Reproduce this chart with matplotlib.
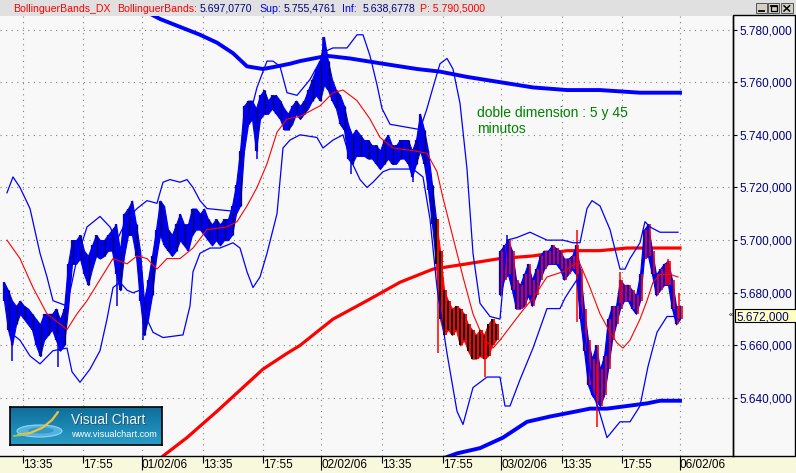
import numpy as np
import matplotlib
matplotlib.use('Agg')
import matplotlib.pyplot as plt
from matplotlib.patches import Rectangle, Ellipse
from matplotlib.colors import LinearSegmentedColormap

plt.rcParams['font.family'] = ['Liberation Sans', 'DejaVu Sans']

# ---------------- data ----------------
# 5-minute price bars (high / low), one every 4 bar units
price_high = [5.684, 5.681, 5.677, 5.675, 5.677, 5.675, 5.674, 5.672, 5.670, 5.668,
              5.672, 5.672, 5.672, 5.674, 5.670, 5.674, 5.691, 5.700, 5.700, 5.702,
              5.696, 5.694, 5.698, 5.702, 5.700, 5.700, 5.702, 5.704, 5.706, 5.696,
              5.710, 5.712, 5.715, 5.706, 5.696, 5.677, 5.685, 5.694, 5.704, 5.715,
              5.713, 5.704, 5.702, 5.706, 5.710, 5.706, 5.706, 5.712, 5.712, 5.710,
              5.712, 5.708, 5.706, 5.708, 5.706, 5.708, 5.708, 5.713, 5.721, 5.734,
              5.751, 5.753, 5.753, 5.750, 5.755, 5.757, 5.753, 5.755, 5.755, 5.753,
              5.750, 5.748, 5.751, 5.753, 5.751, 5.753, 5.757, 5.761, 5.765, 5.768,
              5.777, 5.768, 5.761, 5.757, 5.755, 5.751, 5.744, 5.740, 5.742, 5.740,
              5.738, 5.738, 5.736, 5.736, 5.734, 5.738, 5.740, 5.736, 5.736, 5.738,
              5.738, 5.738, 5.734, 5.738, 5.748, 5.742, 5.734, 5.721, 5.708, 5.696,
              5.681, 5.677, 5.674, 5.675, 5.674, 5.672, 5.668, 5.666, 5.664, 5.666,
              5.664, 5.668, 5.670, 5.668, 5.696, 5.698, 5.700, 5.696, 5.685, 5.683,
              5.687, 5.691, 5.685, 5.689, 5.694, 5.696, 5.696, 5.698, 5.697, 5.696,
              5.693, 5.693, 5.694, 5.698, 5.689, 5.674, 5.662, 5.655, 5.660, 5.651,
              5.656, 5.670, 5.675, 5.675, 5.685, 5.683, 5.683, 5.681, 5.679, 5.687,
              5.704, 5.706, 5.696, 5.687, 5.689, 5.691, 5.692, 5.685, 5.675, 5.675]
price_low = [5.677, 5.666, 5.660, 5.668, 5.672, 5.670, 5.668, 5.666, 5.660, 5.656,
             5.662, 5.664, 5.666, 5.662, 5.658, 5.660, 5.674, 5.691, 5.691, 5.693,
             5.687, 5.683, 5.689, 5.694, 5.693, 5.694, 5.696, 5.696, 5.687, 5.681,
             5.694, 5.702, 5.702, 5.694, 5.677, 5.664, 5.670, 5.679, 5.693, 5.702,
             5.698, 5.696, 5.694, 5.696, 5.700, 5.698, 5.696, 5.702, 5.704, 5.704,
             5.702, 5.700, 5.698, 5.700, 5.698, 5.700, 5.700, 5.702, 5.710, 5.713,
             5.734, 5.744, 5.746, 5.734, 5.746, 5.748, 5.748, 5.750, 5.748, 5.746,
             5.742, 5.742, 5.744, 5.748, 5.746, 5.748, 5.750, 5.753, 5.755, 5.753,
             5.759, 5.757, 5.753, 5.750, 5.744, 5.742, 5.731, 5.729, 5.732, 5.732,
             5.732, 5.731, 5.731, 5.729, 5.727, 5.729, 5.731, 5.729, 5.729, 5.731,
             5.731, 5.729, 5.724, 5.729, 5.734, 5.729, 5.719, 5.706, 5.691, 5.670,
             5.664, 5.666, 5.664, 5.666, 5.660, 5.662, 5.658, 5.655, 5.655, 5.656,
             5.655, 5.656, 5.660, 5.662, 5.679, 5.685, 5.687, 5.681, 5.674, 5.674,
             5.675, 5.679, 5.675, 5.679, 5.685, 5.689, 5.691, 5.691, 5.691, 5.689,
             5.685, 5.687, 5.689, 5.687, 5.670, 5.658, 5.645, 5.641, 5.639, 5.637,
             5.641, 5.651, 5.662, 5.668, 5.674, 5.677, 5.677, 5.674, 5.672, 5.677,
             5.693, 5.694, 5.687, 5.679, 5.681, 5.683, 5.683, 5.674, 5.668, 5.670]
price_bar = np.arange(1, len(price_high) + 1) * 4

# isolated wicks
spike_bar = [438, 485, 577, 597, 620, 668, 679]
spike_high = [5.690, 5.662, 5.704, 5.653, 5.688, 5.693, 5.680]
spike_low = [5.657, 5.648, 5.669, 5.629, 5.676, 5.683, 5.670]
blue_spike_bar = [12, 58, 117, 143, 257, 323, 351, 413, 507]
blue_spike_high = [5.672, 5.664, 5.700, 5.676, 5.744, 5.777, 5.740, 5.733, 5.702]
blue_spike_low = [5.654, 5.652, 5.675, 5.662, 5.731, 5.762, 5.725, 5.722, 5.690]

# short Bollinger bands (5 min)
mid_bar = [7, 20, 33, 47, 57, 67, 77, 87, 100, 113, 127, 137, 147, 157, 167, 180, 193, 207,
           227, 237, 247, 257, 267, 277, 287, 300, 320, 333, 343, 357, 370, 380, 393, 413,
           427, 437, 443, 453, 463, 473, 483, 493, 500, 510, 520, 533, 547, 563, 575, 580,
           590, 600, 610, 617, 623, 630, 640, 647, 653, 660, 670, 678]
mid_val = [5.700, 5.693, 5.682, 5.672, 5.669, 5.666, 5.672, 5.677, 5.685, 5.693,
           5.691, 5.694, 5.693, 5.689, 5.693, 5.693, 5.697, 5.704, 5.705, 5.707,
           5.713, 5.720, 5.729, 5.741, 5.746, 5.747, 5.751, 5.756, 5.757, 5.753,
           5.746, 5.739, 5.735, 5.734, 5.733, 5.726, 5.716, 5.701, 5.686, 5.672,
           5.663, 5.659, 5.662, 5.667, 5.672, 5.678, 5.686, 5.688, 5.691, 5.691,
           5.682, 5.672, 5.665, 5.661, 5.659, 5.662, 5.670, 5.677, 5.684, 5.687,
           5.687, 5.686]
up_bar = [7, 13, 20, 30, 40, 47, 53, 67, 77, 87, 100, 110, 117, 127, 137, 147, 157, 163, 170,
          180, 187, 193, 200, 207, 233, 240, 247, 257, 267, 273, 280, 287, 297, 310, 320,
          327, 333, 347, 353, 357, 363, 370, 377, 382, 390, 420, 427, 433, 440, 447, 453,
          460, 467, 473, 480, 490, 500, 507, 517, 530, 547, 563, 573, 580, 587, 592, 600,
          610, 620, 625, 630, 640, 645, 650, 660, 670, 678]
up_val = [5.718, 5.724, 5.720, 5.712, 5.695, 5.686, 5.677, 5.675, 5.693, 5.705,
          5.709, 5.705, 5.700, 5.708, 5.712, 5.715, 5.714, 5.722, 5.723, 5.722,
          5.723, 5.720, 5.715, 5.712, 5.711, 5.722, 5.743, 5.758, 5.768, 5.768,
          5.766, 5.756, 5.755, 5.761, 5.768, 5.772, 5.773, 5.773, 5.776, 5.778,
          5.778, 5.770, 5.759, 5.750, 5.744, 5.742, 5.750, 5.758, 5.767, 5.769,
          5.765, 5.752, 5.727, 5.695, 5.676, 5.671, 5.670, 5.700, 5.701, 5.703,
          5.700, 5.700, 5.699, 5.699, 5.712, 5.715, 5.713, 5.704, 5.689, 5.689,
          5.693, 5.699, 5.707, 5.705, 5.703, 5.703, 5.703]
lo_bar = [10, 20, 30, 40, 53, 67, 72, 80, 90, 100, 107, 113, 120, 127, 133, 140, 147, 153,
          163, 183, 190, 193, 200, 210, 220, 233, 240, 247, 253, 260, 267, 277, 283, 290,
          300, 317, 323, 333, 343, 350, 360, 367, 373, 383, 390, 413, 423, 430, 437, 447,
          457, 463, 473, 487, 500, 505, 510, 520, 533, 547, 560, 565, 570, 577, 593, 600,
          607, 620, 630, 640, 648, 657, 667, 675, 678]
lo_val = [5.665, 5.662, 5.656, 5.653, 5.658, 5.659, 5.650, 5.646, 5.651, 5.658,
          5.670, 5.682, 5.684, 5.681, 5.680, 5.681, 5.670, 5.665, 5.663, 5.664,
          5.675, 5.688, 5.695, 5.697, 5.697, 5.699, 5.697, 5.688, 5.682, 5.686,
          5.695, 5.710, 5.735, 5.738, 5.740, 5.739, 5.735, 5.738, 5.740, 5.731,
          5.723, 5.720, 5.722, 5.726, 5.727, 5.727, 5.724, 5.708, 5.682, 5.657,
          5.635, 5.630, 5.644, 5.648, 5.648, 5.637, 5.637, 5.647, 5.659, 5.674,
          5.674, 5.678, 5.681, 5.685, 5.642, 5.634, 5.625, 5.631, 5.631, 5.637,
          5.652, 5.665, 5.671, 5.671, 5.670]

# long Bollinger bands (45 min)
lmid_bar = [150, 163, 187, 217, 240, 263, 287, 300, 333, 367, 400, 433, 467, 500, 533, 567,
            600, 627, 653, 680]
lmid_val = [5.613, 5.618, 5.625, 5.635, 5.643, 5.651, 5.657, 5.660, 5.670, 5.677,
            5.684, 5.689, 5.691, 5.693, 5.694, 5.696, 5.696, 5.697, 5.697, 5.697]
lup_bar = [120, 140, 150, 160, 180, 200, 217, 233, 247, 263, 277, 290, 300, 327, 350, 383,
           417, 440, 467, 500, 533, 567, 600, 640, 680]
lup_val = [5.793, 5.788, 5.786, 5.784, 5.781, 5.778, 5.775, 5.771, 5.766, 5.765,
           5.766, 5.767, 5.768, 5.770, 5.769, 5.767, 5.765, 5.764, 5.762, 5.760,
           5.758, 5.757, 5.757, 5.756, 5.756]
llo_bar = [435, 457, 480, 503, 527, 550, 577, 590, 607, 627, 647, 660, 680]
llo_val = [5.616, 5.619, 5.621, 5.625, 5.631, 5.633, 5.635, 5.636, 5.636, 5.637,
           5.638, 5.639, 5.639]

last_price = 5.672
date_bar = [142, 321, 501, 680]
date_labels = ['01/02/06', '02/02/06', '03/02/06', '06/02/06']
time_bar = [23, 83, 203, 263, 382, 443, 562, 622]
time_labels = ['13:35', '17:55', '13:35', '17:55', '13:35', '17:55', '13:35', '17:55']
y_ticks = [5.64, 5.66, 5.68, 5.70, 5.72, 5.74, 5.76, 5.78]
y_labels = ['5.640,000', '5.660,000', '5.680,000', '5.700,000', '5.720,000',
            '5.740,000', '5.760,000', '5.780,000']

title_parts = [(13, 'BollinguerBands_DX', '#FF0000'),
               (117, 'BollinguerBands:', '#FF0000'),
               (200, '5.697,0770', '#000080'),
               (259, 'Sup:', '#0000FF'),
               (284, '5.755,4761', '#000080'),
               (342, 'Inf:', '#0000FF'),
               (363, '5.638,6778', '#000080'),
               (420, 'P: 5.790,5000', '#FF0000')]

# ---------------- figure ----------------
W, H = 796, 473
BG = '#F8F8F8'
fig = plt.figure(figsize=(W / 100, H / 100), dpi=100)
fig.patch.set_facecolor(BG)

bg = fig.add_axes([0, 0, 1, 1], zorder=-5)
bg.set_xlim(0, W); bg.set_ylim(H, 0); bg.axis('off')
bg.add_patch(Rectangle((0, 0), W, 16, fc='#E0E0E0', ec='none'))
bg.add_patch(Rectangle((0, 456), W, 17, fc='#F8F8DC', ec='none'))

PL, PR, PT, PB = 0, 733, 16, 456
ax = fig.add_axes([PL / W, 1 - PB / H, (PR - PL) / W, (PB - PT) / H])
ax.set_facecolor(BG)
ax.set_xlim(0, 733)
ax.set_ylim(5.61801, 5.78513)
for s in ['left', 'top']:
    ax.spines[s].set_visible(False)
for s in ['bottom', 'right']:
    ax.spines[s].set_color('black'); ax.spines[s].set_linewidth(1.0)

ax.set_xticks(date_bar)
ax.set_xticklabels(date_labels)
ax.set_xticks(time_bar, minor=True)
ax.set_xticklabels(time_labels, minor=True)
ax.tick_params(axis='x', which='major', length=10, width=0.8, direction='out',
               pad=-7.5, labelsize=8.5, colors='black')
ax.tick_params(axis='x', which='minor', length=5, width=0.8, direction='out',
               pad=-2.5, labelsize=8.5, colors='black')
for t in ax.get_xticklabels(which='both'):
    t.set_ha('left')

ax.yaxis.tick_right()
ax.set_yticks(y_ticks)
ax.set_yticklabels(y_labels)
ax.tick_params(axis='y', length=3, width=0.8, direction='out', pad=1.5,
               labelsize=8.5, labelcolor='#000080', color='black')

gkw = dict(color='#808080', linestyle=(0, (1, 4)), linewidth=0.8)
ax.grid(True, which='major', axis='y', **gkw)
ax.grid(True, which='both', axis='x', **gkw)
ax.set_axisbelow(True)

# long bands
ax.plot(lmid_bar, lmid_val, color='#FF0000', lw=2.3, zorder=2)
ax.plot(lup_bar, lup_val, color='#0000FF', lw=2.8, zorder=2)
ax.plot(llo_bar, llo_val, color='#0000FF', lw=2.8, zorder=2)

# price bars: jagged high-low band plus individual bars
hi = np.array(price_high); lo = np.array(price_low)
seg1 = price_bar <= 436
seg2 = (price_bar >= 436) & (price_bar < 500)
seg3 = price_bar >= 500
BLUE = '#0000E8'
for m, col in [(seg1, BLUE), (seg3, BLUE)]:
    ax.fill_between(price_bar[m], lo[m], hi[m], color=col, lw=0.8, zorder=3)
    ax.vlines(price_bar[m], lo[m], hi[m], colors=col, lw=1.6, zorder=3)
ax.vlines(price_bar[seg1][1::2] + 1, lo[seg1][1::2], hi[seg1][1::2],
          colors='#000060', lw=0.9, zorder=3.1)
ax.vlines(blue_spike_bar, blue_spike_low, blue_spike_high, colors=BLUE, lw=1.1, zorder=3.1)
# red / black section
ax.fill_between(price_bar[seg2], lo[seg2], hi[seg2], color='#FF0000', lw=0.8, zorder=3)
ax.vlines(price_bar[seg2], lo[seg2], hi[seg2], colors='#000000', lw=1.4, zorder=3.1)
ax.vlines(price_bar[seg2] + 2, lo[seg2], hi[seg2], colors='#FF0000', lw=1.4, zorder=3.2)
# red bars over the last session
ax.vlines(price_bar[seg3] + 2, lo[seg3], hi[seg3], colors='#FF0000', lw=1.2, zorder=3.2)
ax.vlines(spike_bar, spike_low, spike_high, colors='#FF0000', lw=1.1, zorder=3.3)

# short bands
ax.plot(up_bar, up_val, color='#0000FF', lw=0.9, zorder=4)
ax.plot(lo_bar, lo_val, color='#0000FF', lw=0.9, zorder=4)
ax.plot(mid_bar, mid_val, color='#FF0000', lw=0.8, zorder=4)

# ---------------- overlay (pixel coordinates) ----------------
ov = fig.add_axes([0, 0, 1, 1], zorder=10)
ov.set_xlim(0, W); ov.set_ylim(H, 0); ov.axis('off')
ov.patch.set_alpha(0)

for x, txt, col in title_parts:
    ov.text(x, 11.5, txt, color=col, fontsize=7.6, va='baseline', ha='left')

# window buttons
for bx, bw in [(756, 11), (768, 11), (780.5, 12)]:
    ov.add_patch(Rectangle((bx, 3.5), bw, 9.5, fc='#D4D0C8', ec='#404040', lw=0.6))
ov.plot([759, 764], [11, 11], color='black', lw=1.3)
ov.add_patch(Rectangle((771, 5.8), 5.5, 5.2, fc='none', ec='black', lw=0.9))
ov.plot([771, 776.5], [6.2, 6.2], color='black', lw=1.3)
ov.plot([784, 789.5], [5.8, 11], color='black', lw=1.1)
ov.plot([784, 789.5], [11, 5.8], color='black', lw=1.1)

# right panel frame
ov.add_patch(Rectangle((733, 15.5), 62.3, 440.5, fc='none', ec='black', lw=1.0))

# last price box
ov.add_patch(Rectangle((734.5, 308.5), 62, 13.5, fc='#FFFFC0', ec='black', lw=0.8))
ov.text(736.5, 320, '5.672,000', color='#000080', fontsize=8.5, va='baseline', ha='left')
ov.text(730.5, 315.5, '\u00ab', color='black', fontsize=5.5, va='center', ha='center')

# annotation
ov.text(477, 117, 'doble dimension : 5 y 45', color='#008000', fontsize=10, va='baseline')
ov.text(477, 132.5, 'minutos', color='#008000', fontsize=10, va='baseline')

# logo
la = fig.add_axes([10 / W, 1 - 445 / H, 152 / W, 38 / H], zorder=11)
cmap = LinearSegmentedColormap.from_list('lg', ['#0F6E9B', '#1B86B2', '#2A9CC4'])
grad = np.linspace(0, 1, 38)[:, None] * np.ones((1, 152))
la.imshow(grad, cmap=cmap, extent=(0, 152, 38, 0), aspect='auto', interpolation='bilinear')
la.set_xlim(0, 152); la.set_ylim(38, 0)
la.set_xticks([]); la.set_yticks([])
for s in la.spines.values():
    s.set_color('black'); s.set_linewidth(1.2)
la.add_patch(Ellipse((29.5, 24), 45, 12, fc='#58B8E6', ec='#A0DDF5', lw=0.8, alpha=0.9))
la.add_patch(Ellipse((31, 23.5), 26, 6, fc='#2A8FC0', ec='none', alpha=0.8))
la.plot([8, 20, 32, 42, 48], [28, 26, 21, 13, 5], color='#F2C23A', lw=1.6,
        solid_capstyle='round')
la.plot([4, 10, 16], [29, 28.3, 27.5], color='#9ACD60', lw=1.2)
la.text(61.5, 18, 'Visual Chart', color='#203040', fontsize=9.8, va='baseline', alpha=0.5)
la.text(60.7, 17.3, 'Visual Chart', color='#EEF6FA', fontsize=9.8, va='baseline')
la.text(60.7, 29.7, 'www.visualchart.com', color='white', fontsize=6.6, va='baseline')

fig.savefig('out.png', dpi=100, facecolor=fig.get_facecolor())
